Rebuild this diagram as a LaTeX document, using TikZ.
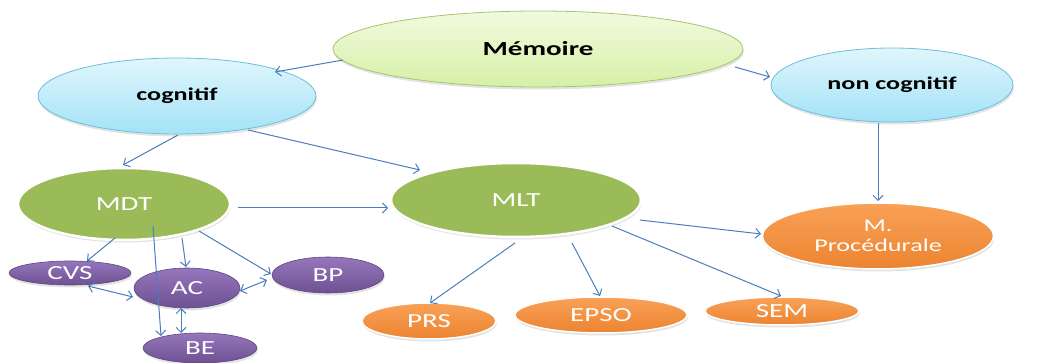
\documentclass[tikz,border=0pt]{standalone}
\usepackage{fontspec}
\setmainfont{Carlito}[FakeStretch=1.45]
\usetikzlibrary{shapes.geometric,arrows.meta,shadows}
\definecolor{arrowblue}{HTML}{4A7EBB}
\definecolor{limetop}{HTML}{F2FADF}
\definecolor{limebot}{HTML}{D6F0A6}
\definecolor{limeedge}{HTML}{A5C66A}
\definecolor{cyantop}{HTML}{E0F6FD}
\definecolor{cyanbot}{HTML}{A3E2F6}
\definecolor{cyanedge}{HTML}{6BBFDA}
\definecolor{greenfill}{HTML}{9BBB59}
\definecolor{orangetop}{HTML}{F9A157}
\definecolor{orangebot}{HTML}{EC8431}
\definecolor{purpletop}{HTML}{9676BC}
\definecolor{purplebot}{HTML}{6D5192}
\definecolor{purpleedge}{HTML}{5E4780}
\begin{document}
\begin{tikzpicture}[x=1pt,y=-1pt,
  base/.style={ellipse,inner sep=0pt,align=center},
  shad/.style={drop shadow={opacity=0.22,shadow xshift=0.8pt,shadow yshift=-2.5pt}},
  limenode/.style={base,shad,top color=limetop,bottom color=limebot,draw=limeedge,line width=0.8pt,text=black,font=\fontsize{20}{22}\selectfont\bfseries},
  cyannode/.style={base,shad,top color=cyantop,bottom color=cyanbot,draw=cyanedge,line width=0.8pt,text=black,font=\fontsize{18}{20}\selectfont\bfseries},
  greennode/.style={base,shad,fill=greenfill,draw=white,line width=2.5pt,text=white,font=\fontsize{20}{22}\selectfont},
  orangenode/.style={base,shad,top color=orangetop,bottom color=orangebot,draw=white,line width=1.5pt,text=white,font=\fontsize{20}{22}\selectfont},
  purplenode/.style={base,shad,top color=purpletop,bottom color=purplebot,draw=purpleedge,line width=0.6pt,text=white,font=\fontsize{20}{22}\selectfont},
  conn/.style={draw=arrowblue,line width=1pt,-{Straight Barb[length=5pt,width=10pt]}},
  bidir/.style={draw=arrowblue,line width=1pt,{Straight Barb[length=5pt,width=10pt]}-{Straight Barb[length=5pt,width=10pt]}}
]
\useasboundingbox (0,0) rectangle (1044,363);

% top level
\node[limenode,minimum width=410pt,minimum height=76pt] (memoire) at (538,49) {Mémoire};
\node[cyannode,minimum width=278pt,minimum height=76pt] (cog) at (177,96) {cognitif};
\node[cyannode,minimum width=242pt,minimum height=74pt] (noncog) at (892,85) {non cognitif};

% second level
\node[greennode,minimum width=212pt,minimum height=72pt] (mdt) at (124,204) {MDT};
\node[greennode,minimum width=250pt,minimum height=74pt] (mlt) at (516,200) {MLT};
\node[orangenode,minimum width=231pt,minimum height=66pt,font=\fontsize{18}{20}\selectfont] (mproc) at (878,236) {M.\\Procédurale};

% purple nodes
\node[purplenode,minimum width=122pt,minimum height=24pt] (cvs) at (70,273) {CVS};
\node[purplenode,minimum width=106pt,minimum height=40pt] (ac) at (187,288) {AC};
\node[purplenode,minimum width=112pt,minimum height=36pt] (bp) at (328,275) {BP};
\node[purplenode,minimum width=114pt,minimum height=30pt] (be) at (200,348) {BE};

% orange nodes
\node[orangenode,minimum width=134pt,minimum height=36pt] (prs) at (429,321) {PRS};
\node[orangenode,minimum width=172pt,minimum height=36pt] (epso) at (601,315) {EPSO};
\node[orangenode,minimum width=154pt,minimum height=28pt] (sem) at (782,311) {SEM};

% connectors
\draw[conn] ([shift={(-195,11)}]memoire.center) -- ([shift={(98,-24)}]cog.center);
\draw[conn] ([shift={(197,18)}]memoire.center) -- ([shift={(-122,-8)}]noncog.center);
\draw[conn] ([shift={(1,39)}]cog.center) -- ([shift={(-1,-39)}]mdt.center);
\draw[conn] ([shift={(71,34)}]cog.center) -- ([shift={(-96,-30)}]mlt.center);
\draw[conn] ([shift={(-14,38)}]noncog.center) -- ([shift={(0,-35)}]mproc.center);
\draw[conn] ([shift={(114,4)}]mdt.center) -- ([shift={(-128,8)}]mlt.center);
\draw[conn] ([shift={(124,20)}]mlt.center) -- ([shift={(-117,-2)}]mproc.center);
\draw[conn] ([shift={(-1,43)}]mlt.center) -- ([shift={(1,-18)}]prs.center);
\draw[conn] ([shift={(56,43)}]mlt.center) -- ([shift={(-1,-19)}]epso.center);
\draw[conn] ([shift={(96,26)}]mlt.center) -- ([shift={(-1,-15)}]sem.center);
\draw[conn] ([shift={(-9,34)}]mdt.center) -- ([shift={(17,-12)}]cvs.center);
\draw[conn] ([shift={(58,34)}]mdt.center) -- ([shift={(-1,-21)}]ac.center);
\draw[conn] ([shift={(75,27)}]mdt.center) -- ([shift={(-57,-1)}]bp.center);
\draw[conn] ([shift={(29,22)}]mdt.center) -- ([shift={(-39,-12)}]be.center);
\draw[bidir] ([shift={(18,13)}]cvs.center) -- ([shift={(-54,9)}]ac.center);
\draw[bidir] ([shift={(53,3)}]ac.center) -- ([shift={(-61,5)}]bp.center);
\draw[bidir] ([shift={(-6,20)}]ac.center) -- ([shift={(-19,-15)}]be.center);
\end{tikzpicture}
\end{document}
